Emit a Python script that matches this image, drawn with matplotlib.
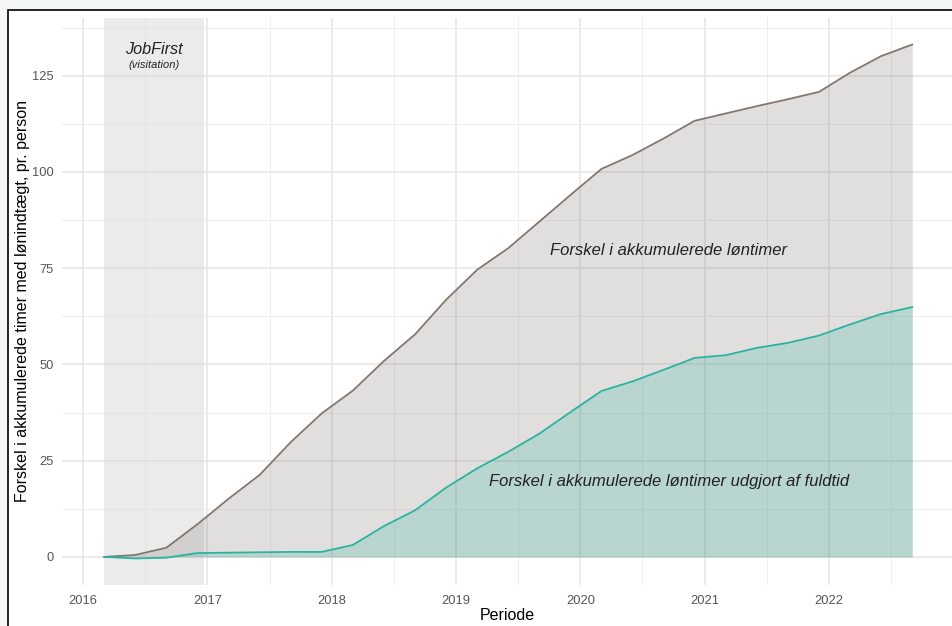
import numpy as np
import matplotlib
matplotlib.use("Agg")
from matplotlib import pyplot as plt
from matplotlib.patches import Rectangle

plt.rcParams["font.family"] = ["Liberation Sans", "DejaVu Sans"]

# quarterly periods (decimal year)
periode = [2016.17, 2016.42, 2016.67, 2016.92, 2017.17, 2017.42, 2017.67, 2017.92,
           2018.17, 2018.42, 2018.67, 2018.92, 2019.17, 2019.42, 2019.67, 2019.92,
           2020.17, 2020.42, 2020.67, 2020.92, 2021.17, 2021.42, 2021.67, 2021.92,
           2022.17, 2022.42, 2022.67]
loentimer = [0.0, 0.5, 2.4, 8.5, 15.1, 21.3, 29.8, 37.3,
             43.2, 50.9, 57.8, 66.8, 74.6, 80.2, 87.1, 94.0,
             100.8, 104.4, 108.7, 113.3, 115.2, 117.1, 118.9, 120.8,
             125.8, 130.1, 133.1]
fuldtid = [0.0, -0.4, -0.2, 1.0, 1.1, 1.2, 1.3, 1.3,
           3.1, 8.0, 12.1, 18.0, 23.0, 27.3, 32.0, 37.6,
           43.1, 45.6, 48.6, 51.7, 52.4, 54.3, 55.6, 57.5,
           60.4, 63.1, 64.9]

jobfirst_start = 2016.17
jobfirst_end = 2016.97

x_ticks = [2016, 2017, 2018, 2019, 2020, 2021, 2022]
y_ticks = [0, 25, 50, 75, 100, 125]

grey_col = "#807870"
teal_col = "#2ab3a0"

fig = plt.figure(figsize=(9.52, 6.26), dpi=100, facecolor="#f5f7f7")
# screenshot frame (left + top edge only visible)
frame = Rectangle((8 / 952, -0.2), 2.0, 1.2 - 10 / 626, transform=fig.transFigure,
                  facecolor="white", edgecolor="black", linewidth=1.2, zorder=-10)
fig.add_artist(frame)

ax = fig.add_axes([62 / 952, 1 - 585 / 626, 1 - 62 / 952, (585 - 18) / 626])
ax.set_facecolor("none")
ax.set_zorder(1)

# grid (ggplot minimal style)
ax.set_xticks(x_ticks)
ax.set_xticks(np.arange(2016.5, 2023, 1.0), minor=True)
ax.set_yticks(y_ticks)
ax.set_yticks(np.arange(12.5, 140, 25), minor=True)
ax.grid(which="major", color="#e4e4e4", linewidth=1.1, zorder=0)
ax.grid(which="minor", color="#eeeeee", linewidth=0.7, zorder=0)
ax.set_axisbelow(True)

# JobFirst period
ax.axvspan(jobfirst_start, jobfirst_end, color="#d9d9d9", alpha=0.5, linewidth=0, zorder=1)

ax.fill_between(periode, 0, loentimer, color=grey_col, alpha=0.23, linewidth=0, zorder=2)
ax.plot(periode, loentimer, color=grey_col, linewidth=1.3, zorder=4)
ax.fill_between(periode, 0, fuldtid, color=teal_col, alpha=0.22, linewidth=0, zorder=3)
ax.plot(periode, fuldtid, color=teal_col, linewidth=1.3, zorder=5)

ax.set_xlim(2015.83, 2022.99)
ax.set_ylim(-7.3, 140.0)

for s in ax.spines.values():
    s.set_visible(False)
ax.tick_params(which="both", length=0)
ax.tick_params(axis="both", labelsize=9.3, labelcolor="#555555")
ax.tick_params(axis="x", pad=7)
ax.tick_params(axis="y", pad=6)

ax.set_xlabel("Periode", fontsize=11.5, labelpad=1)
ax.set_ylabel("Forskel i akkumulerede timer med lønindtægt, pr. person", fontsize=11.5)
ax.yaxis.set_label_coords(-0.036, 0.5)

ax.text(2016.57, 131.8, "JobFirst", style="italic", fontsize=11.7, ha="center", va="center",
        color="#222222", zorder=6)
ax.text(2016.57, 127.7, "(visitation)", style="italic", fontsize=8, ha="center", va="center",
        color="#222222", zorder=6)
ax.text(2020.71, 79.6, "Forskel i akkumulerede løntimer", style="italic", fontsize=12,
        ha="center", va="center", color="#222222", zorder=6)
ax.text(2020.71, 19.6, "Forskel i akkumulerede løntimer udgjort af fuldtid", style="italic",
        fontsize=12, ha="center", va="center", color="#222222", zorder=6)

fig.savefig("out.png", dpi=100, facecolor=fig.get_facecolor())
